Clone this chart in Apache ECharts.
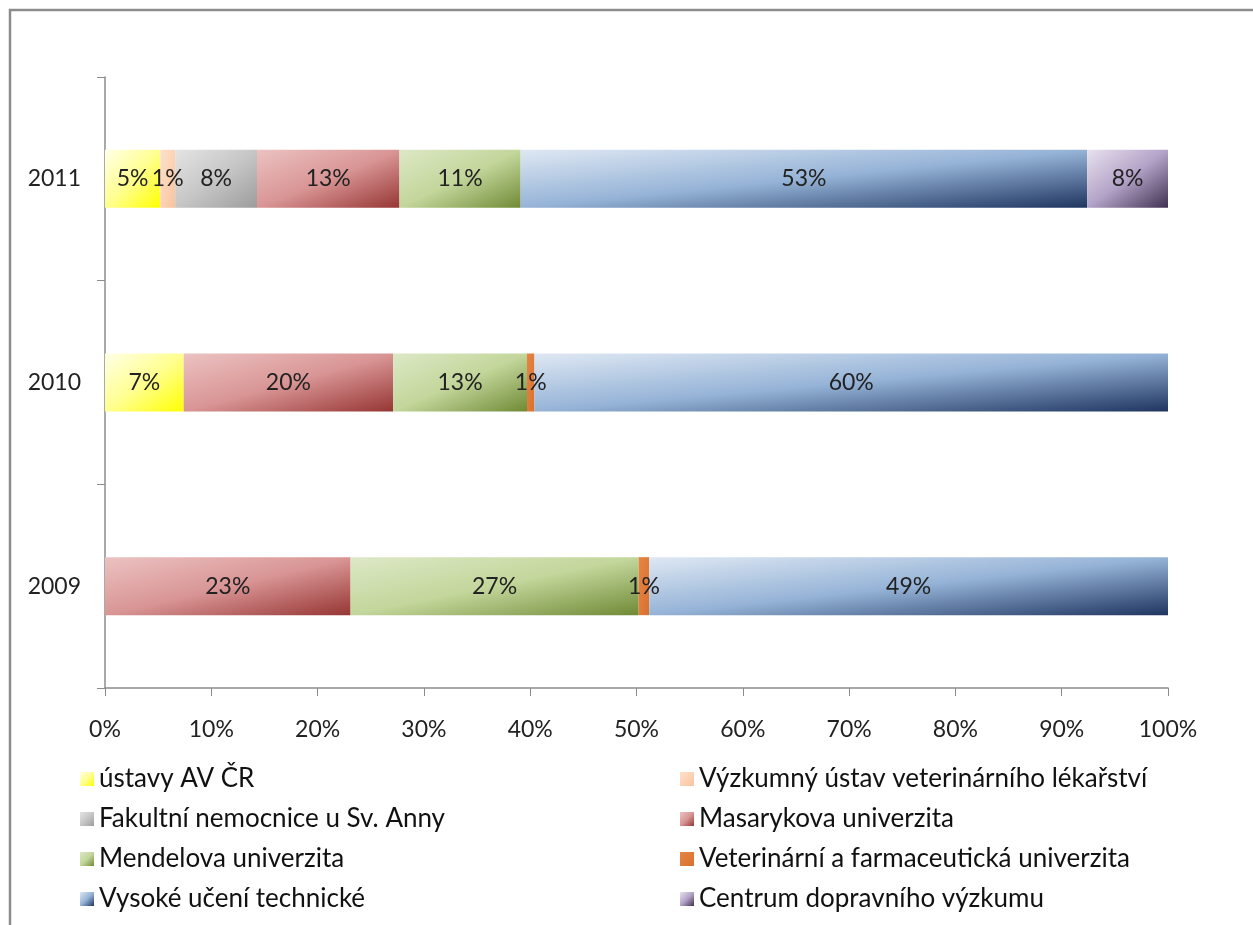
<!DOCTYPE html>
<html>
<head>
<meta charset="utf-8">
<script src="https://cdn.jsdelivr.net/npm/echarts@6/dist/echarts.min.js"></script>
<style>
  html, body { margin: 0; padding: 0; background: #fff; }
  #chart { width: 1253px; height: 925px; }
</style>
</head>
<body>
<div id="chart"></div>
<script>
// roky odspodu nahoru
const years = ['2009', '2010', '2011'];
const xTicks = ['0%', '10%', '20%', '30%', '40%', '50%', '60%', '70%', '80%', '90%', '100%'];

// podíly v % (2009, 2010, 2011)
const ustavyAV = [0, 7.4, 5.2];
const vuvl = [0, 0, 1.4];
const fnusa = [0, 0, 7.7];
const masaryk = [23.1, 19.7, 13.4];
const mendel = [27.1, 12.6, 11.4];
const vfu = [1.0, 0.7, 0];
const vut = [48.8, 59.6, 53.3];
const cdv = [0, 0, 7.6];

const seriesNames = [
  'ústavy AV ČR',
  'Výzkumný ústav veterinárního lékařství',
  'Fakultní nemocnice u Sv. Anny',
  'Masarykova univerzita',
  'Mendelova univerzita',
  'Veterinární a farmaceutická univerzita',
  'Vysoké učení technické',
  'Centrum dopravního výzkumu'
];
const seriesData = [ustavyAV, vuvl, fnusa, masaryk, mendel, vfu, vut, cdv];

// excelovské přechody: světlý vlevo nahoře, tmavý vpravo dole
const fills = [
  ['#ffffe8', '#ffff90', '#ffff00'],
  ['#fde0cc', '#fcd3b4', '#f9c39c'],
  ['#e4e4e4', '#c6c6c6', '#9c9c9c'],
  ['#ecc2c2', '#d99595', '#963634'],
  ['#dde8c6', '#c3d69b', '#6f8a35'],
  ['#e58545', '#e07b39', '#d8702c'],
  ['#dfe8f3', '#95b3d7', '#1f3560'],
  ['#e8e2ee', '#b3a2c7', '#3f3151']
];

const plotW = 1063; // šířka kreslicí plochy, px
const barH = 58;

// přechod kolmý k vedlejší diagonále obdélníku (jako v Excelu)
function grad(c, v) {
  const w = Math.max(v / 100 * plotW, 1);
  const s = w * w + barH * barH;
  return new echarts.graphic.LinearGradient(0, 0, 2 * barH * barH / s, 2 * w * w / s, [
    { offset: 0, color: c[0] },
    { offset: 0.5, color: c[1] },
    { offset: 1, color: c[2] }
  ]);
}

function legendGrad(c) {
  return new echarts.graphic.LinearGradient(0, 0, 1, 1, [
    { offset: 0, color: c[0] },
    { offset: 0.5, color: c[1] },
    { offset: 1, color: c[2] }
  ]);
}

const font = "Lato, 'Open Sans', sans-serif";

const chart = echarts.init(document.getElementById('chart'));

const series = seriesNames.map((name, i) => ({
  name: name,
  type: 'bar',
  stack: 'total',
  barWidth: barH,
  data: seriesData[i].map(v => (v > 0 ? { value: v, itemStyle: { color: grad(fills[i], v) } } : null)),
  itemStyle: { color: legendGrad(fills[i]) },
  label: {
    show: true,
    position: 'inside',
    color: '#222',
    fontFamily: font,
    fontSize: 23,
    formatter: p => (p.value > 0 ? Math.round(p.value) + '%' : '')
  },
  emphasis: { disabled: true }
}));

const legendText = { color: '#111', fontFamily: font, fontSize: 26 };

chart.setOption({
  animation: false,
  backgroundColor: '#fff',
  grid: { left: 105, right: 85, top: 77, bottom: 237 },
  xAxis: {
    type: 'value',
    min: 0,
    max: 100,
    interval: 10,
    axisLine: { show: true, lineStyle: { color: '#8c8c8c', width: 1.5 } },
    axisTick: { show: true, length: 8, lineStyle: { color: '#8c8c8c' } },
    axisLabel: {
      color: '#222',
      fontFamily: font,
      fontSize: 23,
      margin: 30,
      formatter: v => xTicks[Math.round(v / 10)]
    },
    splitLine: { show: false }
  },
  yAxis: {
    type: 'category',
    data: years,
    axisLine: { show: true, lineStyle: { color: '#8c8c8c', width: 1.5 } },
    axisTick: { show: true, length: 8, lineStyle: { color: '#8c8c8c' } },
    axisLabel: { color: '#222', fontFamily: font, fontSize: 23, margin: 24 }
  },
  legend: [
    {
      data: [seriesNames[0], seriesNames[2], seriesNames[4], seriesNames[6]],
      orient: 'vertical',
      left: 75,
      top: 761,
      itemWidth: 14,
      itemHeight: 14,
      itemGap: 14,
      selectedMode: false,
      icon: 'rect',
      textStyle: legendText
    },
    {
      data: [seriesNames[1], seriesNames[3], seriesNames[5], seriesNames[7]],
      orient: 'vertical',
      left: 675,
      top: 761,
      itemWidth: 14,
      itemHeight: 14,
      itemGap: 14,
      selectedMode: false,
      icon: 'rect',
      textStyle: legendText
    }
  ],
  graphic: [
    {
      type: 'polyline',
      silent: true,
      shape: { points: [[10, 925], [10, 10], [1253, 10]] },
      style: { stroke: '#8c8c8c', lineWidth: 2.5, fill: null }
    }
  ],
  series: series
});
</script>
</body>
</html>
